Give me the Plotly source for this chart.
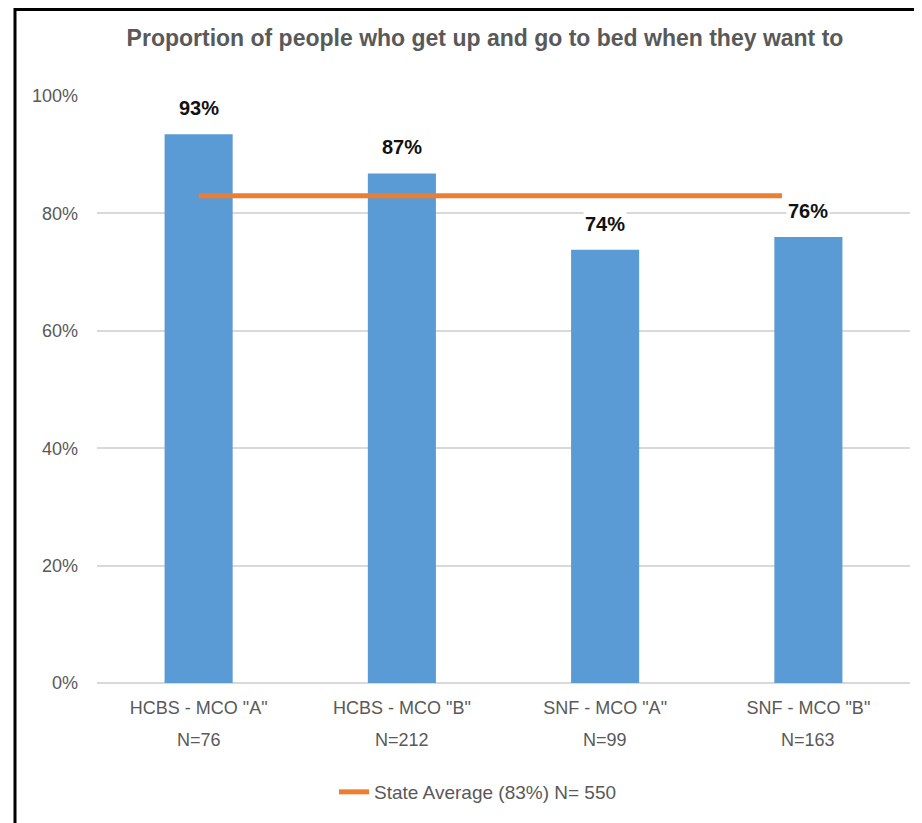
import plotly.graph_objects as go

categories = ['HCBS - MCO "A"', 'HCBS - MCO "B"', 'SNF - MCO "A"', 'SNF - MCO "B"']
sample_sizes = ["N=76", "N=212", "N=99", "N=163"]
values = [0.935, 0.868, 0.738, 0.760]
value_labels = ["93%", "87%", "74%", "76%"]
state_avg = 0.83
state_avg_span = [0, 2.87]   # category positions the average line covers
state_label = "State Average (83%) N= 550"
y_ticks = [0, 0.2, 0.4, 0.6, 0.8, 1.0]
y_ticklabels = ["0%", "20%", "40%", "60%", "80%", "100%"]
title = "Proportion of people who get up and go to bed when they want to"

FONT = "Liberation Sans, Arial, sans-serif"
GREY = "#595959"
xs = list(range(len(categories)))

W, H = 914, 815
L, R, T, B = 89, 12, 88, 140
PH = H - T - B
PW = W - L - R

fig = go.Figure()
fig.add_trace(go.Bar(x=xs, y=values, width=0.335, marker_color="#5B9BD5",
                     marker_line_width=0, showlegend=False, hoverinfo="skip"))
fig.add_trace(go.Scatter(x=state_avg_span, y=[state_avg] * 2, mode="lines",
                         line=dict(color="#ED7D31", width=5), name=state_label))

for x, v, t in zip(xs, values, value_labels):
    fig.add_annotation(x=x, y=v, text="<b>%s</b>" % t, showarrow=False,
                       yanchor="bottom", yshift=13, bgcolor="white",
                       font=dict(family=FONT, size=20, color="#111111"))

n_row_y = (T + PH - 732) / PH
for x, n in zip(xs, sample_sizes):
    fig.add_annotation(x=x, xref="x", y=n_row_y, yref="paper", text=n,
                       showarrow=False, yanchor="middle",
                       font=dict(family=FONT, size=18, color=GREY))

# outer frame (top and left edges visible)
fig.add_shape(type="rect", xref="paper", yref="paper",
              x0=(7 - L) / PW, x1=1.05, y0=-0.3, y1=1 + (T - 1.5) / PH,
              line=dict(color="black", width=3), layer="below")

fig.update_layout(
    width=W, height=H,
    margin=dict(l=L, r=R, t=T, b=B),
    paper_bgcolor="white", plot_bgcolor="white",
    title=dict(text="<b>%s</b>" % title, x=(485 - 8) / W, xanchor="center",
               y=1 - 30 / H, yanchor="middle",
               font=dict(family=FONT, size=23, color=GREY)),
    xaxis=dict(tickmode="array", tickvals=xs, ticktext=categories,
               range=[-0.5, 3.5], showgrid=False, zeroline=False,
               showline=False, ticks="", ticklabelstandoff=12,
               tickfont=dict(family=FONT, size=18, color=GREY)),
    yaxis=dict(range=[0, 1.0], tickvals=y_ticks, ticktext=y_ticklabels,
               showgrid=True, gridcolor="#D9D9D9", gridwidth=1.5,
               zeroline=True, zerolinecolor="#D9D9D9", zerolinewidth=1.5,
               showline=False, ticks="", ticklabelstandoff=18,
               tickfont=dict(family=FONT, size=18, color=GREY)),
    legend=dict(orientation="h", x=(478 - 8 - L) / PW, xanchor="center",
                y=(T + PH - 784) / PH, yanchor="middle",
                font=dict(family=FONT, size=19, color=GREY)),
    bargap=0.665,
)

fig.write_html("out.html")
